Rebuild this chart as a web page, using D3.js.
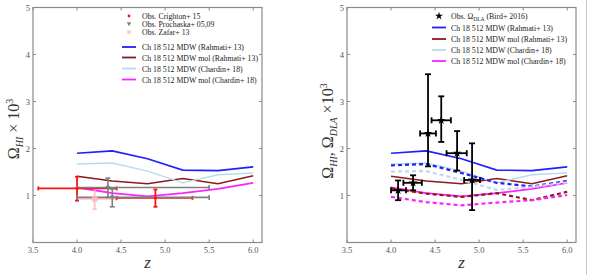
<!DOCTYPE html>
<html>
<head>
<meta charset="utf-8">
<script src="https://cdn.jsdelivr.net/npm/d3@7"></script>
<style>
  body { margin: 0; background: #fff; }
  svg { display: block; font-family: "Liberation Serif", "DejaVu Serif", serif; }
</style>
</head>
<body>
<svg id="chart" width="589" height="275"></svg>
<script>
// model redshifts and curves (Omega x 10^3)
const zModel = [4.0, 4.4, 4.8, 5.2, 5.6, 6.0];
const rahmati = [1.90, 1.95, 1.78, 1.54, 1.53, 1.61];
const rahmatiMol = [1.41, 1.31, 1.25, 1.36, 1.25, 1.42];
const chardin = [1.67, 1.69, 1.52, 1.27, 1.44, 1.48];
const chardinMol = [1.17, 1.05, 0.98, 1.05, 1.14, 1.27];
// dashed versions on the right panel
const rahmatiDash = [1.64, 1.67, 1.48, 1.27, 1.19, 1.31];
const rahmatiMolDash = [1.15, 1.04, 0.97, 1.05, 0.90, 1.08];
const chardinDash = [1.51, 1.52, 1.33, 1.12, 1.18, 1.28];
const chardinMolDash = [0.97, 0.86, 0.79, 0.85, 0.90, 1.01];

// observations: z, value, z low, z high, value low, value high
const crighton = [
  { z: 4.00, v: 1.15, z0: 3.56, z1: 4.45, v0: 0.89, v1: 1.40 },
  { z: 4.89, v: 0.95, z0: 4.45, z1: 5.31, v0: 0.76, v1: 1.13 }
];
const prochaska = [
  { z: 4.35, v: 1.17, z0: 4.0, z1: 5.5, v0: 0.96, v1: 1.37 },
  { z: 4.40, v: 0.96, z0: 4.0, z1: 5.5, v0: 0.76, v1: 1.14 }
];
const zafar = [
  { z: 4.20, v: 0.93, z0: 4.0, z1: 4.44, v0: 0.71, v1: 1.15 }
];
const bird = [
  { z: 4.08, v: 1.11, z0: 4.00, z1: 4.17, v0: 0.90, v1: 1.32 },
  { z: 4.25, v: 1.27, z0: 4.14, z1: 4.35, v0: 1.11, v1: 1.43 },
  { z: 4.42, v: 2.32, z0: 4.33, z1: 4.51, v0: 1.62, v1: 3.58 },
  { z: 4.57, v: 2.60, z0: 4.46, z1: 4.68, v0: 2.14, v1: 3.11 },
  { z: 4.75, v: 1.90, z0: 4.63, z1: 4.86, v0: 1.53, v1: 2.37 },
  { z: 4.92, v: 1.33, z0: 4.83, z1: 5.01, v0: 0.69, v1: 2.11 }
];

const xTicks = [3.5, 4.0, 4.5, 5.0, 5.5, 6.0];
const yTicks = [1, 2, 3, 4, 5];

const modelLabels = [
  'Ch 18 512 MDW (Rahmati+ 13)',
  'Ch 18 512 MDW mol (Rahmati+ 13)',
  'Ch 18 512 MDW (Chardin+ 18)',
  'Ch 18 512 MDW mol (Chardin+ 18)'
];
const modelColors = ['#1f1fff', '#8b1a1a', '#b9dcea', '#ff22ff'];
const modelWidths = [1.6, 1.4, 1.4, 1.8];

const svg = d3.select('#chart');

function panel(left) {
  const x = d3.scaleLinear().domain([3.5, 6.1]).range([left, left + 229]);
  const y = d3.scaleLinear().domain([0, 5]).range([242.5, 7.5]);
  const g = svg.append('g');

  // frame
  g.append('rect')
    .attr('x', x(3.5)).attr('y', y(5))
    .attr('width', x(6.1) - x(3.5)).attr('height', y(0) - y(5))
    .attr('fill', 'none').attr('stroke', '#8a8a8a').attr('stroke-width', 1.2);

  // inward ticks on all sides
  const tk = 3;
  xTicks.forEach(t => {
    g.append('line').attr('x1', x(t)).attr('x2', x(t)).attr('y1', y(0)).attr('y2', y(0) - tk).attr('stroke', '#8a8a8a');
    g.append('line').attr('x1', x(t)).attr('x2', x(t)).attr('y1', y(5)).attr('y2', y(5) + tk).attr('stroke', '#8a8a8a');
    g.append('text').attr('x', x(t)).attr('y', y(0) + 10)
      .attr('text-anchor', 'middle').attr('font-size', 8.5).attr('fill', '#555')
      .text(t.toFixed(1));
  });
  yTicks.forEach(t => {
    g.append('line').attr('x1', x(3.5)).attr('x2', x(3.5) + tk).attr('y1', y(t)).attr('y2', y(t)).attr('stroke', '#8a8a8a');
    g.append('line').attr('x1', x(6.1)).attr('x2', x(6.1) - tk).attr('y1', y(t)).attr('y2', y(t)).attr('stroke', '#8a8a8a');
    g.append('text').attr('x', x(3.5) - 3).attr('y', y(t) + 3)
      .attr('text-anchor', 'end').attr('font-size', 8.5).attr('fill', '#555')
      .text(t);
  });

  // x label
  g.append('text').attr('x', (x(3.5) + x(6.1)) / 2).attr('y', 268)
    .attr('text-anchor', 'middle').attr('font-size', 17).attr('font-style', 'italic').attr('fill', '#333')
    .text('z');

  return { g, x, y };
}

function drawLines(p, series, dashed) {
  const line = d3.line().x((d, i) => p.x(zModel[i])).y(d => p.y(d));
  series.forEach((s, i) => {
    p.g.append('path')
      .datum(s)
      .attr('fill', 'none')
      .attr('stroke', modelColors[i])
      .attr('stroke-width', dashed ? 2.2 : modelWidths[i])
      .attr('stroke-dasharray', dashed ? '4,3' : null)
      .attr('d', line);
  });
}

function errBars(p, data, color, width, cap, opacity) {
  const e = p.g.append('g').attr('stroke', color).attr('stroke-width', width).attr('opacity', opacity);
  data.forEach(d => {
    e.append('line').attr('x1', p.x(d.z0)).attr('x2', p.x(d.z1)).attr('y1', p.y(d.v)).attr('y2', p.y(d.v));
    e.append('line').attr('x1', p.x(d.z)).attr('x2', p.x(d.z)).attr('y1', p.y(d.v0)).attr('y2', p.y(d.v1));
    [d.z0, d.z1].forEach(zz => e.append('line').attr('x1', p.x(zz)).attr('x2', p.x(zz))
      .attr('y1', p.y(d.v) - cap).attr('y2', p.y(d.v) + cap));
    [d.v0, d.v1].forEach(vv => e.append('line').attr('x1', p.x(d.z) - cap).attr('x2', p.x(d.z) + cap)
      .attr('y1', p.y(vv)).attr('y2', p.y(vv)));
  });
}

function legend(g, lx, tx, rows) {
  rows.forEach(r => {
    if (r.type === 'line') {
      g.append('line').attr('x1', lx - 7).attr('x2', lx + 7).attr('y1', r.y).attr('y2', r.y)
        .attr('stroke', r.color).attr('stroke-width', 1.8);
    } else {
      g.append('path').attr('transform', `translate(${lx},${r.y})`)
        .attr('d', d3.symbol().type(r.symbol).size(r.size)())
        .attr('fill', r.color).attr('opacity', r.opacity || 1);
    }
    const t = g.append('text').attr('x', tx).attr('y', r.y + 3)
      .attr('font-size', 7.8).attr('fill', '#222');
    if (r.sub) {
      t.append('tspan').text(r.text);
      t.append('tspan').attr('font-size', 5.5).attr('dy', 2).text(r.sub);
      t.append('tspan').attr('dy', -2).text(r.rest);
    } else {
      t.text(r.text);
    }
  });
}

const triDown = { draw(ctx, size) {
  const s = Math.sqrt(size);
  ctx.moveTo(-s / 2, -s / 2.6); ctx.lineTo(s / 2, -s / 2.6); ctx.lineTo(0, s / 2); ctx.closePath();
} };

// ---------- left panel ----------
const L = panel(33);
drawLines(L, [rahmati, rahmatiMol, chardin, chardinMol], false);
errBars(L, zafar, '#ffb6c1', 2, 2, 0.8);
errBars(L, crighton, '#ff1010', 1.8, 2, 1);
errBars(L, prochaska, '#7f7f7f', 1.6, 2.5, 1);
L.g.selectAll('.cr').data(crighton).join('circle')
  .attr('cx', d => L.x(d.z)).attr('cy', d => L.y(d.v)).attr('r', 1.6).attr('fill', '#ff1010');
L.g.selectAll('.pr').data(prochaska).join('path')
  .attr('transform', d => `translate(${L.x(d.z)},${L.y(d.v)})`)
  .attr('d', d3.symbol().type(triDown).size(22)()).attr('fill', '#7f7f7f');
L.g.selectAll('.za').data(zafar).join('rect')
  .attr('x', d => L.x(d.z) - 3).attr('y', d => L.y(d.v) - 3).attr('width', 6).attr('height', 6)
  .attr('fill', '#ffb6c1').attr('opacity', 0.8);

legend(L.g, 129, 142, [
  { symbol: d3.symbolCircle, size: 6, color: '#ff1010', y: 16, text: 'Obs. Crighton+ 15' },
  { symbol: triDown, size: 20, color: '#7f7f7f', y: 24, text: 'Obs. Prochaska+ 05,09' },
  { symbol: d3.symbolSquare, size: 12, color: '#ffb6c1', opacity: 0.8, y: 32, text: 'Obs. Zafar+ 13' },
  { type: 'line', color: modelColors[0], y: 47, text: modelLabels[0] },
  { type: 'line', color: modelColors[1], y: 57.5, text: modelLabels[1] },
  { type: 'line', color: modelColors[2], y: 68.5, text: modelLabels[2] },
  { type: 'line', color: modelColors[3], y: 79.5, text: modelLabels[3] }
]);

// y label left
const yl = L.g.append('text').attr('transform', 'translate(19,129) rotate(-90)')
  .attr('text-anchor', 'middle').attr('font-size', 16).attr('fill', '#333');
yl.append('tspan').text('Ω');
yl.append('tspan').attr('font-size', 10).attr('font-style', 'italic').attr('dy', 4).text('HI');
yl.append('tspan').attr('dy', -4).text(' × 10');
yl.append('tspan').attr('font-size', 10).attr('dy', -6).text('3');

// ---------- right panel ----------
const R = panel(347);
drawLines(R, [rahmati, rahmatiMol, chardin, chardinMol], false);
drawLines(R, [rahmatiDash, rahmatiMolDash, chardinDash, chardinMolDash], true);
errBars(R, bird, '#000', 1.8, 3, 1);
R.g.selectAll('.bi').data(bird).join('path')
  .attr('transform', d => `translate(${R.x(d.z)},${R.y(d.v)})`)
  .attr('d', d3.symbol().type(d3.symbolStar).size(22)()).attr('fill', '#000');

legend(R.g, 439, 451, [
  { symbol: d3.symbolStar, size: 20, color: '#000', y: 16, text: 'Obs. Ω', sub: 'DLA', rest: ' (Bird+ 2016)' },
  { type: 'line', color: modelColors[0], y: 27.5, text: modelLabels[0] },
  { type: 'line', color: modelColors[1], y: 39, text: modelLabels[1] },
  { type: 'line', color: modelColors[2], y: 50, text: modelLabels[2] },
  { type: 'line', color: modelColors[3], y: 61, text: modelLabels[3] }
]);

const yr = R.g.append('text').attr('transform', 'translate(333,131) rotate(-90)')
  .attr('text-anchor', 'middle').attr('font-size', 16).attr('fill', '#333');
yr.append('tspan').text('Ω');
yr.append('tspan').attr('font-size', 10).attr('font-style', 'italic').attr('dy', 4).text('HI');
yr.append('tspan').attr('dy', -4).text(', Ω');
yr.append('tspan').attr('font-size', 10).attr('font-style', 'italic').attr('dy', 4).text('DLA');
yr.append('tspan').attr('dy', -4).text(' ×10');
yr.append('tspan').attr('font-size', 10).attr('dy', -6).text('3');

// thin frame line at the right edge of the picture
svg.append('line').attr('x1', 586.5).attr('x2', 586.5).attr('y1', 0).attr('y2', 275)
  .attr('stroke', '#c8c8c8').attr('stroke-width', 1);
</script>
</body>
</html>
